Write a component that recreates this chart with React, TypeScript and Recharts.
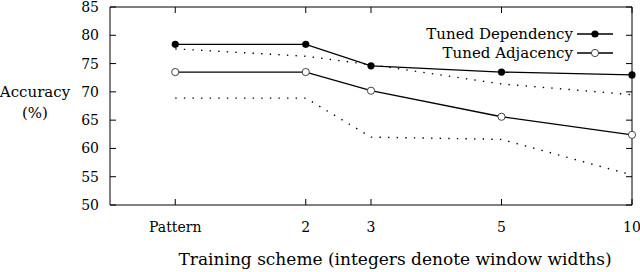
import { LineChart, Line, XAxis, YAxis, ReferenceArea } from "recharts"

// training schemes, placed on a non-uniform axis like the original figure
const schemes = ["Pattern", "2", "3", "5", "10"]
const schemePos = [0, 2, 3, 5, 7]

const tunedDependency = [78.4, 78.4, 74.6, 73.5, 73.0]
const tunedAdjacency = [73.5, 73.5, 70.2, 65.6, 62.4]
const upperDotted = [77.6, 76.3, 74.8, 71.4, 69.5]
const lowerDotted = [68.9, 68.9, 62.0, 61.6, 55.3]

const yTicks = [50, 55, 60, 65, 70, 75, 80, 85]

const W = 640
const H = 272
const M = { top: 7, right: 8, left: 110, bottom: 67 }
const PLOT_RIGHT = W - M.right
const FONT = "'DejaVu Serif', serif"

const data = schemes.map((s, i) => ({
	pos: schemePos[i],
	label: s,
	dep: tunedDependency[i],
	adj: tunedAdjacency[i],
	up: upperDotted[i],
	low: lowerDotted[i]
}))

const XTick = (props: any) => {
	const { x, y, payload } = props
	const idx = schemePos.indexOf(payload.value)
	return (
		<g>
			<line x1={x} x2={x} y1={y} y2={y - 6} stroke="#000" />
			<line x1={x} x2={x} y1={M.top} y2={M.top + 6} stroke="#000" />
			<text x={x} y={y + 27} textAnchor="middle" fontFamily={FONT} fontSize={14} fill="#000">
				{schemes[idx]}
			</text>
		</g>
	)
}

const YTick = (props: any) => {
	const { x, y, payload } = props
	return (
		<g>
			<line x1={x} x2={x + 6} y1={y} y2={y} stroke="#000" />
			<line x1={PLOT_RIGHT - 6} x2={PLOT_RIGHT} y1={y} y2={y} stroke="#000" />
			<text x={x - 11} y={y + 5} textAnchor="end" fontFamily={FONT} fontSize={14} fill="#000">
				{payload.value}
			</text>
		</g>
	)
}

const FilledDot = (props: any) => <circle key={props.index} cx={props.cx} cy={props.cy} r={3.6} fill="#000" />
const OpenDot = (props: any) => (
	<circle key={props.index} cx={props.cx} cy={props.cy} r={3.6} fill="#fff" stroke="#444" strokeWidth={1} />
)

export default function App() {
	return (
		<div style={{ position: "absolute", left: 0, top: 0, width: W, height: H, background: "#fff" }}>
			<LineChart width={W} height={H} data={data} margin={{ top: M.top, right: M.right, left: 0, bottom: 0 }}>
				<XAxis
					dataKey="pos"
					type="number"
					domain={[-1, 7]}
					ticks={schemePos}
					axisLine={false}
					tickLine={false}
					tickSize={0}
					tickMargin={0}
					height={M.bottom}
					tick={<XTick />}
					interval={0}
				/>
				<YAxis
					type="number"
					domain={[50, 85]}
					ticks={yTicks}
					axisLine={false}
					tickLine={false}
					tickSize={0}
					tickMargin={0}
					width={M.left}
					tick={<YTick />}
					interval={0}
				/>
				<ReferenceArea x1={-1} x2={7} y1={50} y2={85} stroke="#000" strokeWidth={1} fill="none" fillOpacity={0} />
				<Line dataKey="up" stroke="#000" strokeWidth={1.4} strokeDasharray="1.4 7.2" dot={false} isAnimationActive={false} />
				<Line dataKey="low" stroke="#000" strokeWidth={1.4} strokeDasharray="1.4 7.2" dot={false} isAnimationActive={false} />
				<Line dataKey="dep" stroke="#000" strokeWidth={1.3} dot={<FilledDot />} isAnimationActive={false} />
				<Line dataKey="adj" stroke="#000" strokeWidth={1.3} dot={<OpenDot />} isAnimationActive={false} />
			</LineChart>

			{/* axis titles and legend, as in the original gnuplot figure */}
			<svg width={W} height={H} style={{ position: "absolute", left: 0, top: 0, pointerEvents: "none" }}>
				<g fontFamily={FONT} fill="#000">
					<text x={35} y={97} textAnchor="middle" fontSize={15}>
						Accuracy
					</text>
					<text x={35} y={118} textAnchor="middle" fontSize={15}>
						(%)
					</text>
					<text x={395} y={265} textAnchor="middle" fontSize={17}>
						Training scheme (integers denote window widths)
					</text>
					<text x={573} y={39} textAnchor="end" fontSize={15}>
						Tuned Dependency
					</text>
					<text x={573} y={58} textAnchor="end" fontSize={15}>
						Tuned Adjacency
					</text>
				</g>
				<line x1={577} x2={613} y1={34} y2={34} stroke="#000" strokeWidth={1.3} />
				<circle cx={595} cy={34} r={3.6} fill="#000" />
				<line x1={577} x2={613} y1={53} y2={53} stroke="#000" strokeWidth={1.3} />
				<circle cx={595} cy={53} r={3.6} fill="#fff" stroke="#444" />
			</svg>
		</div>
	)
}
